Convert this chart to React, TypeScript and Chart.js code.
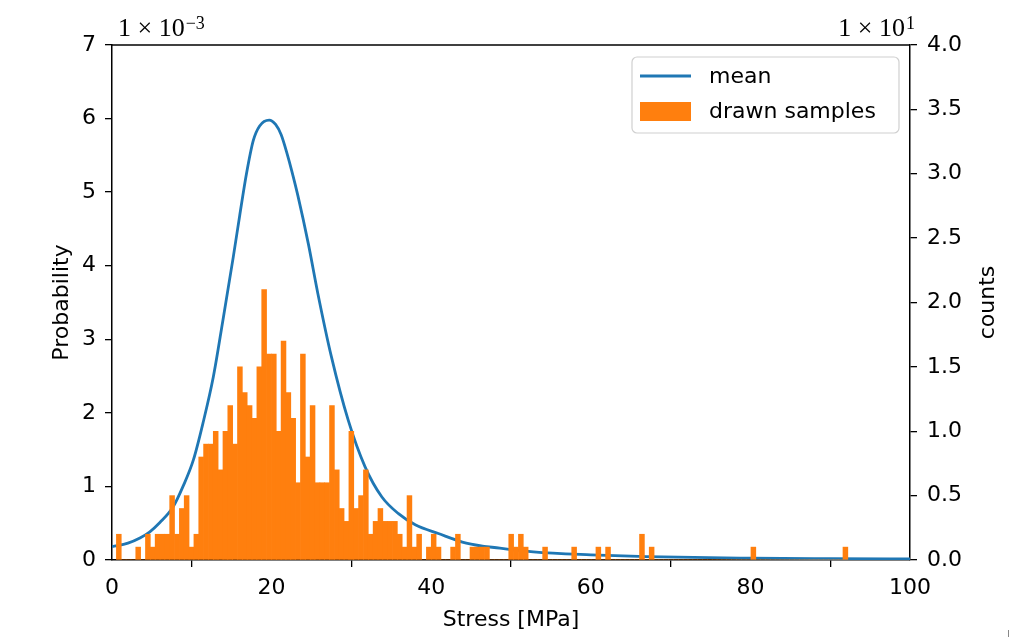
import React, { useEffect, useRef } from "react";
import { Chart, registerables } from "chart.js";

Chart.register(...registerables);

// ---- data ----
const binStart = 0.552; // MPa, left edge of first histogram bin
const binWidth = 0.607; // MPa
const binCounts = [
  2, 0, 0, 0, 1, 0, 2, 1, 2, 2,
  2, 5, 2, 4, 5, 1, 2, 8, 9, 9,
  10, 7, 10, 12, 9, 15, 13, 12, 11, 15,
  21, 16, 16, 10, 17, 13, 11, 6, 16, 8,
  12, 6, 6, 6, 12, 7, 4, 3, 10, 4,
  5, 7, 2, 3, 4, 3, 3, 3, 2, 1,
  5, 1, 2, 0, 1, 2, 1, 0, 0, 1,
  2, 0, 0, 1, 1, 1, 1, 0, 0, 0,
  0, 2, 1, 2, 1, 0, 0, 0, 1, 0,
  0, 0, 0, 0, 1, 0, 0, 0, 0, 1,
  0, 1, 0, 0, 0, 0, 0, 0, 2, 0,
  1, 0, 0, 0, 0, 0, 0, 0, 0, 0,
  0, 0, 0, 0, 0, 0, 0, 0, 0, 0,
  0, 1, 0, 0, 0, 0, 0, 0, 0, 0,
  0, 0, 0, 0, 0, 0, 0, 0, 0, 0,
  1,
];

const curveX = [0, 2, 3.5, 4.7, 6, 7.65, 8.9, 10.2, 11.4, 12.7, 13.9, 15.2, 16, 16.85, 17.7, 18.5, 19.7, 20.5, 21.2, 22, 22.5, 23.3, 24.6, 25.8, 27.5, 29.6, 31.7, 33.8, 35.9, 38, 40.9, 44.4, 48.6, 52.8, 60, 67, 80, 90, 100];
const curveY = [0.18, 0.23, 0.3, 0.38, 0.51, 0.72, 1.0, 1.36, 1.86, 2.49, 3.26, 4.12, 4.68, 5.25, 5.7, 5.9, 5.98, 5.92, 5.78, 5.5, 5.3, 4.95, 4.3, 3.62, 2.76, 1.9, 1.27, 0.86, 0.63, 0.48, 0.36, 0.23, 0.16, 0.11, 0.07, 0.045, 0.025, 0.018, 0.014];

const xTicks = [0, 20, 40, 60, 80, 100];
const leftTicks = [0, 1, 2, 3, 4, 5, 6, 7];
const rightTicks = [0, 5, 10, 15, 20, 25, 30, 35, 40];

const seriesNames = ["mean", "drawn samples"];
const BLUE = "#1f77b4";
const ORANGE = "#ff7f0e";
const FS = 22;
const FONT = "DejaVu Sans";

const overlay = {
  id: "overlay",
  afterDraw(chart: any) {
    const { ctx, chartArea: a } = chart;
    ctx.save();
    ctx.strokeStyle = "#000";
    ctx.lineWidth = 1.5;
    ctx.beginPath();
    ctx.moveTo(a.left, a.top);
    ctx.lineTo(a.right, a.top);
    ctx.stroke();

    ctx.fillStyle = "#000";
    ctx.font = `${FS}px "${FONT}"`;
    ctx.textAlign = "center";
    ctx.textBaseline = "middle";
    ctx.fillText("Stress [MPa]", (a.left + a.right) / 2, 620);
    const cy = (a.top + a.bottom) / 2;
    ctx.save();
    ctx.translate(62, cy);
    ctx.rotate(-Math.PI / 2);
    ctx.fillText("Probability", 0, 0);
    ctx.restore();
    ctx.save();
    ctx.translate(988, cy);
    ctx.rotate(-Math.PI / 2);
    ctx.fillText("counts", 0, 0);
    ctx.restore();

    // offset texts
    ctx.textBaseline = "alphabetic";
    ctx.textAlign = "left";
    ctx.font = `26px "Liberation Serif"`;
    const main = "1 × 10";
    ctx.fillText(main, 118, 36);
    let w = ctx.measureText(main).width;
    ctx.font = `18px "Liberation Serif"`;
    ctx.fillText("−3", 118 + w + 1, 29);

    ctx.font = `18px "Liberation Serif"`;
    const supW = ctx.measureText("1").width;
    ctx.font = `26px "Liberation Serif"`;
    w = ctx.measureText(main).width;
    const rEnd = 915;
    ctx.fillText(main, rEnd - supW - 1 - w, 36);
    ctx.font = `18px "Liberation Serif"`;
    ctx.fillText("1", rEnd - supW, 29);

    // legend
    const lx = 632, ly = 57, lw = 267, lh = 76, r = 5;
    ctx.beginPath();
    ctx.moveTo(lx + r, ly);
    ctx.arcTo(lx + lw, ly, lx + lw, ly + lh, r);
    ctx.arcTo(lx + lw, ly + lh, lx, ly + lh, r);
    ctx.arcTo(lx, ly + lh, lx, ly, r);
    ctx.arcTo(lx, ly, lx + lw, ly, r);
    ctx.closePath();
    ctx.fillStyle = "rgba(255,255,255,0.8)";
    ctx.fill();
    ctx.strokeStyle = "#d0d0d0";
    ctx.lineWidth = 1.2;
    ctx.stroke();

    ctx.strokeStyle = BLUE;
    ctx.lineWidth = 2.8;
    ctx.beginPath();
    ctx.moveTo(640, 76);
    ctx.lineTo(691, 76);
    ctx.stroke();
    ctx.fillStyle = ORANGE;
    ctx.fillRect(640, 102, 51, 19);

    ctx.fillStyle = "#000";
    ctx.font = `${FS}px "${FONT}"`;
    ctx.textBaseline = "middle";
    ctx.fillText(seriesNames[0], 709, 77);
    ctx.fillText(seriesNames[1], 709, 112);

    // tiny artifact mark
    ctx.strokeStyle = "#888";
    ctx.lineWidth = 1;
    ctx.beginPath();
    ctx.moveTo(1008.5, 630);
    ctx.lineTo(1008.5, 637);
    ctx.stroke();
    ctx.restore();
  },
};

export default function App() {
  const ref = useRef<HTMLCanvasElement>(null);
  useEffect(() => {
    document.body.style.margin = "0";
    const histData = binCounts.map((c, i) => ({ x: binStart + binWidth * (i + 0.5), y: c }));
    const lineData = curveX.map((x, i) => ({ x, y: curveY[i] }));
    const tickFont = { family: FONT, size: FS };
    const chart = new Chart(ref.current!, {
      type: "bar",
      data: {
        datasets: [
          {
            type: "bar",
            label: seriesNames[1],
            data: histData as any,
            backgroundColor: ORANGE,
            borderWidth: 0,
            barPercentage: 1,
            categoryPercentage: 1,
            yAxisID: "y2",
            xAxisID: "x",
            order: 0,
          },
          {
            type: "line",
            label: seriesNames[0],
            data: lineData as any,
            borderColor: BLUE,
            borderWidth: 2.8,
            pointRadius: 0,
            cubicInterpolationMode: "monotone",
            fill: false,
            yAxisID: "y",
            xAxisID: "x",
            order: 1,
          } as any,
        ],
      },
      options: {
        responsive: false,
        animation: false,
        layout: { padding: { top: 45, left: 0, right: 0, bottom: 0 } },
        plugins: { legend: { display: false }, tooltip: { enabled: false } },
        scales: {
          x: {
            type: "linear",
            min: 0,
            max: 100,
            offset: false,
            afterFit: (s: any) => { s.height = 77; },
            afterBuildTicks: (s: any) => { s.ticks = xTicks.map((v) => ({ value: v })); },
            ticks: { font: tickFont, color: "#000", padding: 8, maxRotation: 0 },
            grid: { display: true, drawOnChartArea: false, drawTicks: true, tickLength: 7, color: "#000", lineWidth: 1.3 },
            border: { display: true, color: "#000", width: 1.5 },
          },
          y: {
            type: "linear",
            position: "left",
            min: 0,
            max: 7,
            afterFit: (s: any) => { s.width = 112; },
            afterBuildTicks: (s: any) => { s.ticks = leftTicks.map((v) => ({ value: v })); },
            ticks: { font: tickFont, color: "#000", padding: 9 },
            grid: { display: true, drawOnChartArea: false, drawTicks: true, tickLength: 7, color: "#000", lineWidth: 1.3 },
            border: { display: true, color: "#000", width: 1.5 },
          },
          y2: {
            type: "linear",
            position: "right",
            min: 0,
            max: 40,
            afterFit: (s: any) => { s.width = 125; },
            afterBuildTicks: (s: any) => { s.ticks = rightTicks.map((v) => ({ value: v })); },
            ticks: { font: tickFont, color: "#000", padding: 10, callback: (v: any) => (Number(v) / 10).toFixed(1) },
            grid: { display: true, drawOnChartArea: false, drawTicks: true, tickLength: 7, color: "#000", lineWidth: 1.3 },
            border: { display: true, color: "#000", width: 1.5 },
          },
        },
      } as any,
      plugins: [overlay],
    });
    return () => chart.destroy();
  }, []);
  return (
    <div style={{ width: 1035, height: 637, background: "#fff" }}>
      <canvas ref={ref} width={1035} height={637} style={{ display: "block" }} />
    </div>
  );
}
